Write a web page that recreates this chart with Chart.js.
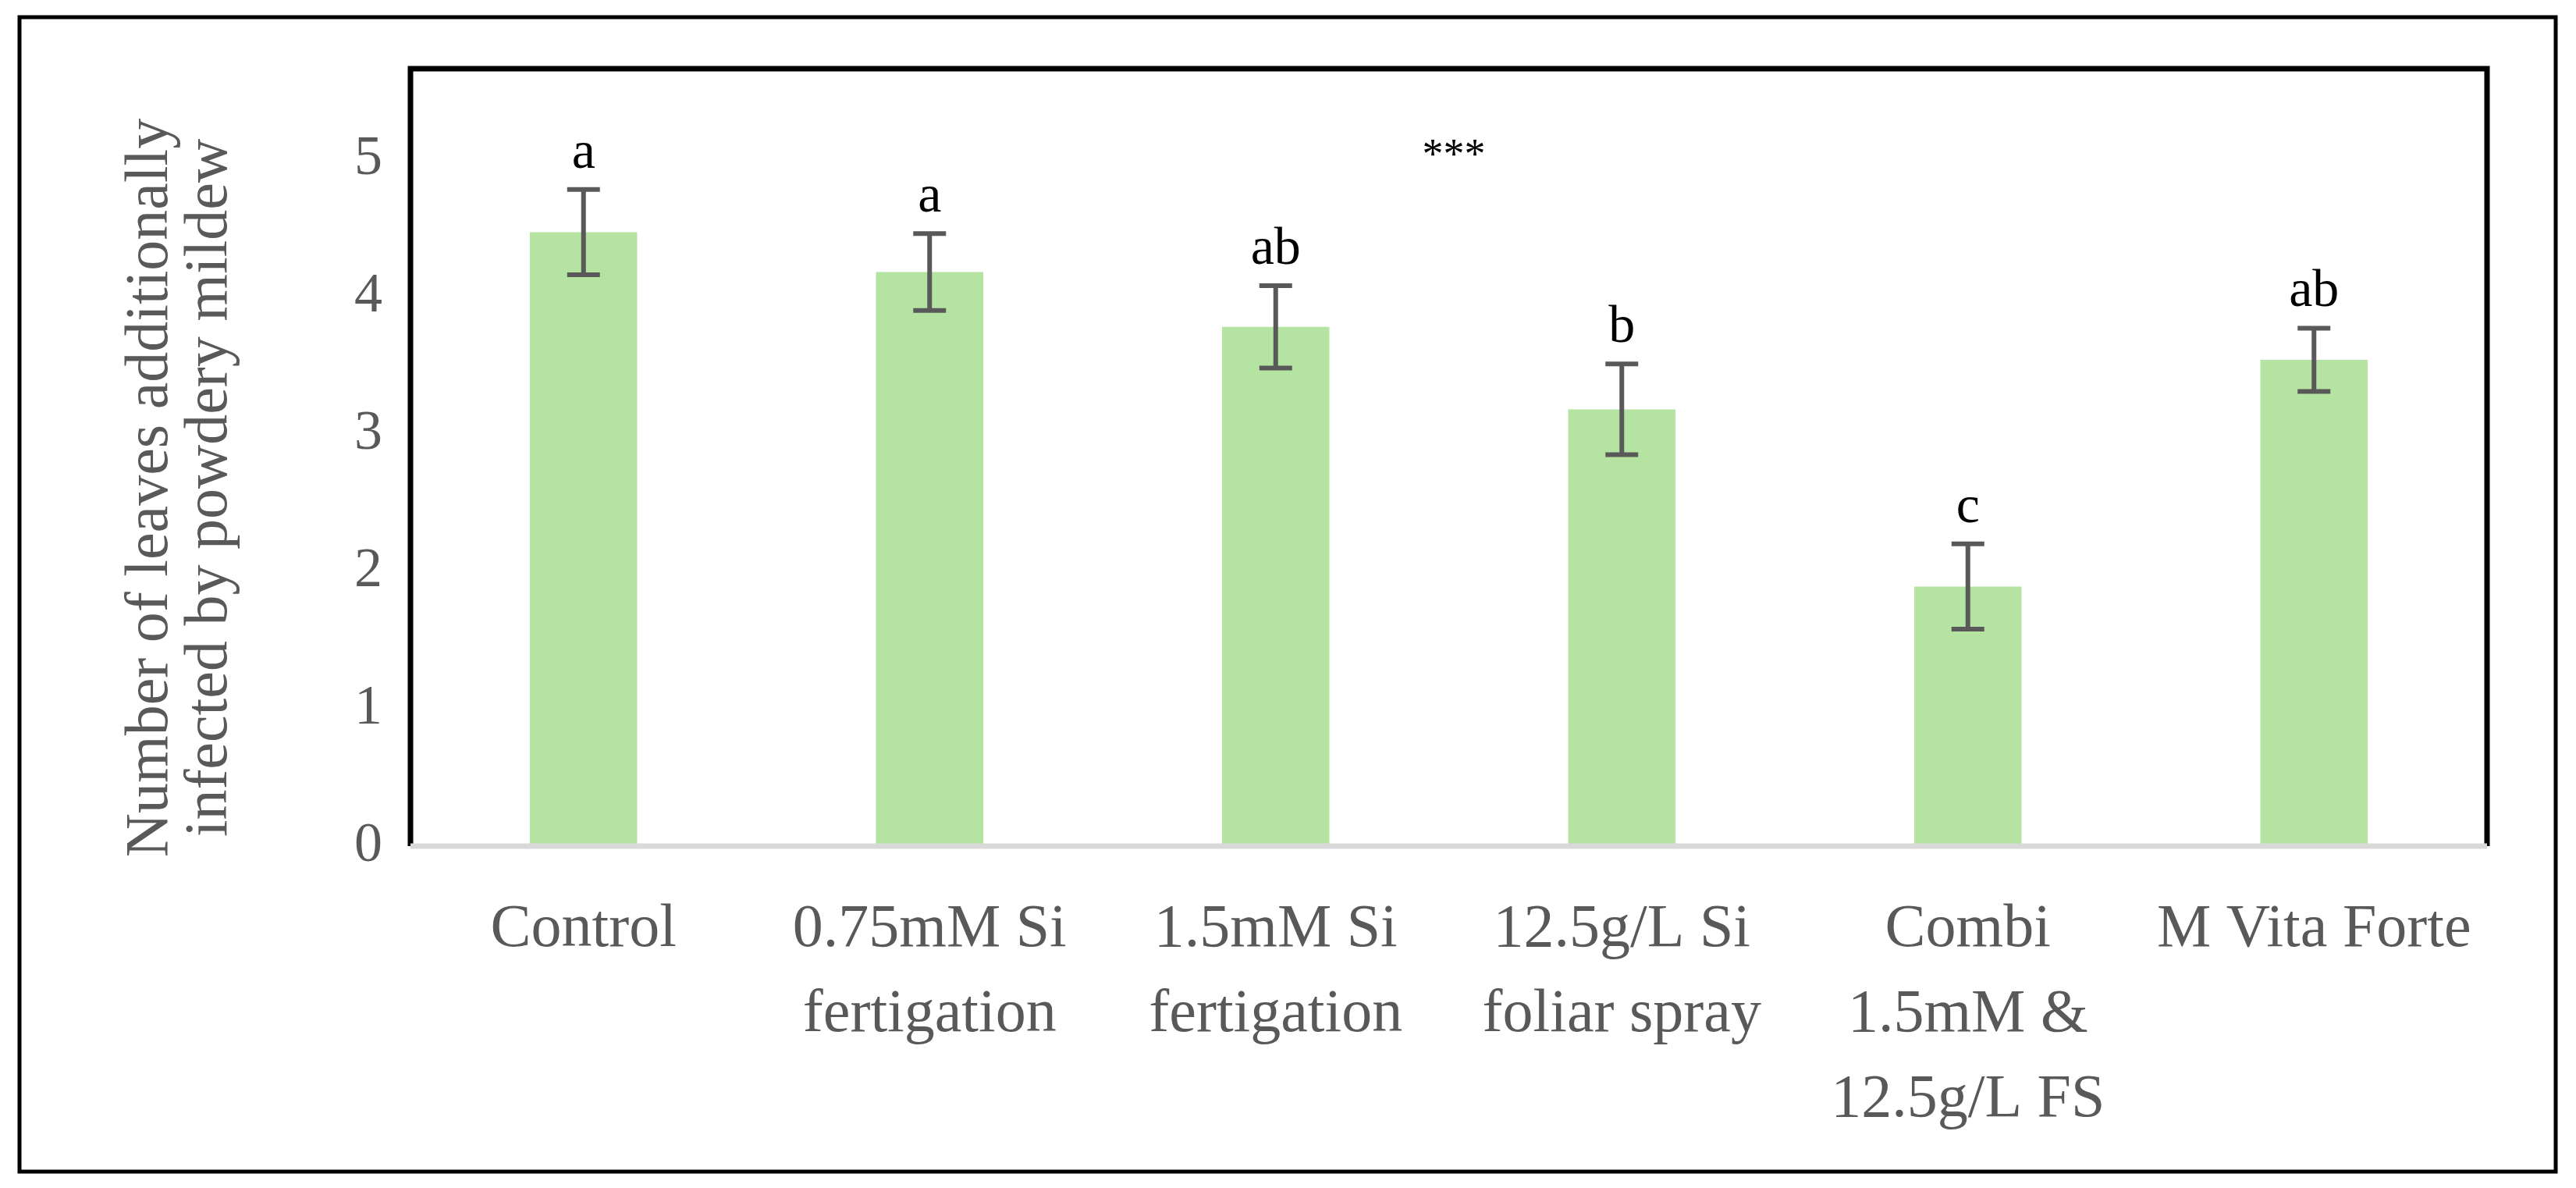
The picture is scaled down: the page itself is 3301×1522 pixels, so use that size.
<!DOCTYPE html>
<html><head><meta charset="utf-8">
<script src="https://cdn.jsdelivr.net/npm/chart.js@4/dist/chart.umd.min.js"></script>
<style>html,body{margin:0;padding:0;background:#fff}#wrap{width:3301px;height:1522px}</style>
</head><body><div id="wrap"><canvas id="c" width="3301" height="1522"></canvas></div>
<script>
'use strict';

// --- Data ---
const categories = [['Control'], ['0.75mM Si', 'fertigation'], ['1.5mM Si', 'fertigation'], ['12.5g/L Si', 'foliar spray'], ['Combi', '1.5mM &', '12.5g/L FS'], ['M Vita Forte']];
const means = [4.47, 4.18, 3.78, 3.18, 1.89, 3.54];
const errors = [0.31, 0.28, 0.3, 0.33, 0.31, 0.23];
const letters = ['a', 'a', 'ab', 'b', 'c', 'ab'];
const yTicks = [0, 1, 2, 3, 4, 5];
const FONT = '"Liberation Serif", "DejaVu Serif", serif';

// --- Frame, error bars, letters, axis title ---
const extras = {
  id: 'extras',
  afterDatasetsDraw(chart) {
    const { ctx, chartArea: a, scales: { x, y } } = chart;
    ctx.save();
    // outer border
    ctx.strokeStyle = '#000'; ctx.lineWidth = 5;
    ctx.strokeRect(25, 22, 3250, 1479);
    // plot frame
    ctx.lineWidth = 7;
    ctx.beginPath();
    ctx.moveTo(a.left, a.bottom); ctx.lineTo(a.left, a.top);
    ctx.lineTo(a.right, a.top); ctx.lineTo(a.right, a.bottom);
    ctx.stroke();
    // baseline
    ctx.strokeStyle = '#d9d9d9'; ctx.lineWidth = 7;
    ctx.beginPath(); ctx.moveTo(a.left, a.bottom); ctx.lineTo(a.right, a.bottom); ctx.stroke();
    // error bars + letters
    ctx.strokeStyle = '#595959'; ctx.lineWidth = 6;
    ctx.fillStyle = '#000'; ctx.font = '68px ' + FONT;
    ctx.textAlign = 'center'; ctx.textBaseline = 'bottom';
    means.forEach((m, i) => {
      const cx = x.getPixelForValue(i);
      const hi = y.getPixelForValue(m + errors[i]);
      const lo = y.getPixelForValue(m - errors[i]);
      ctx.beginPath();
      ctx.moveTo(cx, hi); ctx.lineTo(cx, lo);
      ctx.moveTo(cx - 21, hi); ctx.lineTo(cx + 21, hi);
      ctx.moveTo(cx - 21, lo); ctx.lineTo(cx + 21, lo);
      ctx.stroke();
      ctx.fillText(letters[i], cx, hi - 12);
    });
    ctx.font = '54px ' + FONT;
    ctx.fillText('***', 1863, 228);
    // y axis title
    ctx.fillStyle = '#595959'; ctx.font = '78px ' + FONT;
    ctx.translate(232, a.bottom - 459);
    ctx.rotate(-Math.PI / 2);
    ctx.textBaseline = 'middle';
    ctx.fillText('Number of leaves additionally', 0, -38);
    ctx.fillText('infected by powdery mildew', 0, 38);
    ctx.restore();
  }
};

new Chart(document.getElementById('c').getContext('2d'), {
  type: 'bar',
  data: {
    labels: categories,
    datasets: [{ data: means, backgroundColor: '#b5e4a2', barPercentage: 0.31, categoryPercentage: 1 }]
  },
  options: {
    responsive: false, animation: false,
    layout: { padding: { top: 88, right: 114, left: 0, bottom: 0 } },
    plugins: { legend: { display: false }, tooltip: { enabled: false } },
    scales: {
      x: {
        grid: { display: false }, border: { display: false },
        ticks: { color: '#595959', font: { family: FONT, size: 78, lineHeight: 1.4 }, padding: 45, maxRotation: 0, autoSkip: false },
        afterFit(s) { s.height = 438; }
      },
      y: {
        min: 0, max: 5.66,
        grid: { display: false }, border: { display: false },
        afterBuildTicks(s) { s.ticks = yTicks.map(v => ({ value: v })); },
        ticks: { color: '#595959', font: { family: FONT, size: 72 }, padding: 28 },
        afterFit(s) { s.width = 526; }
      }
    }
  },
  plugins: [extras]
});
</script></body></html>
